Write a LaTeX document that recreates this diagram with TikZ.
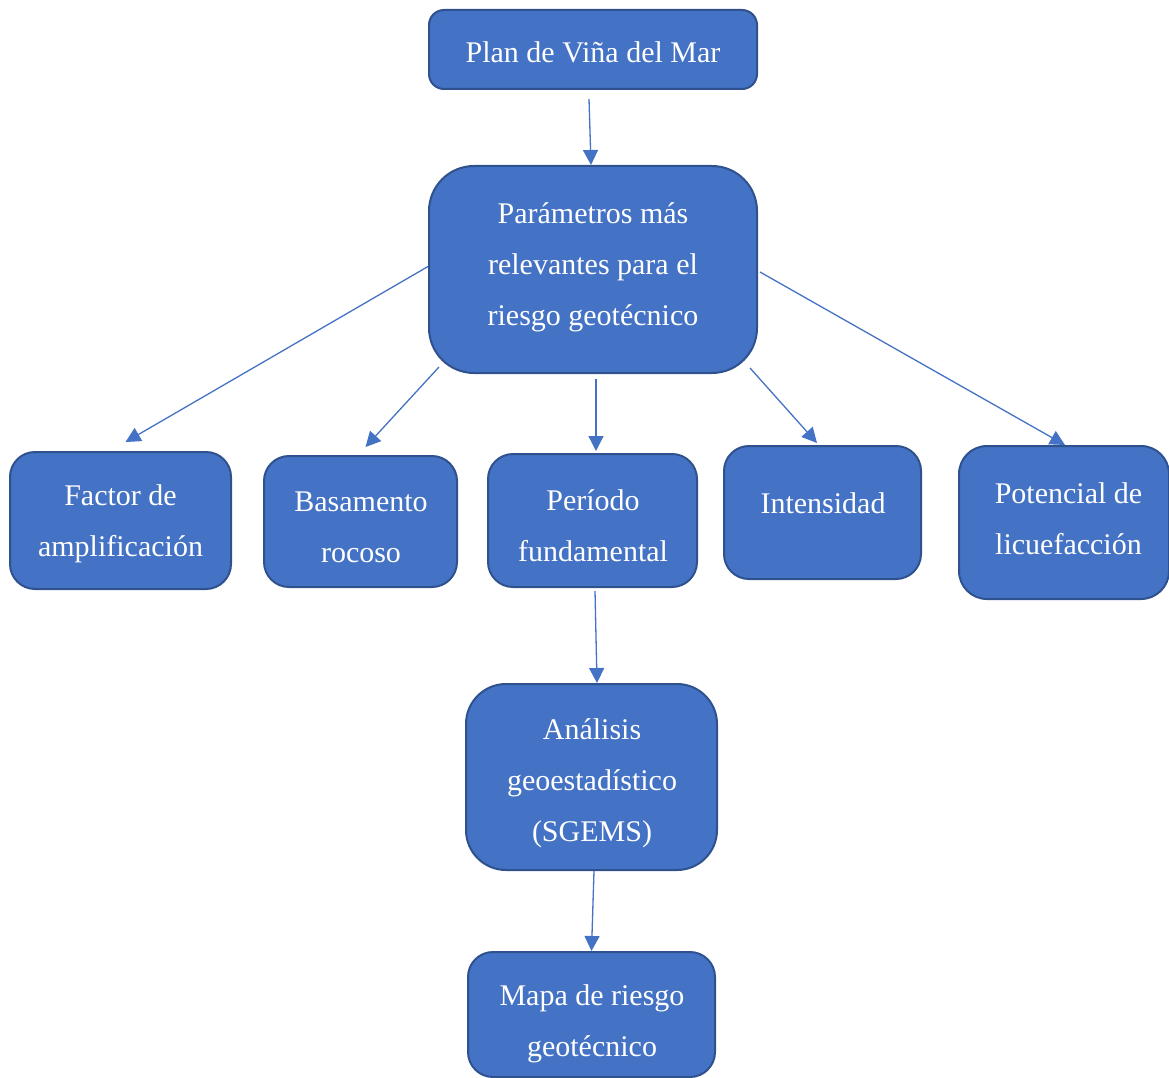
\documentclass[tikz,border=0pt]{standalone}
\usepackage{fontspec}
\setmainfont{Liberation Serif}
\usetikzlibrary{arrows.meta}
\definecolor{boxfill}{HTML}{4472C4}
\definecolor{boxline}{HTML}{2F528F}
\tikzset{
  box/.style={draw=boxline, fill=boxfill, line width=2pt, inner sep=0pt},
  txt/.style={text=white, align=center, inner sep=0pt, font=\fontsize{30}{51}\selectfont},
  conn/.style={draw=boxfill, line width=1.3pt, -{Triangle[length=15pt,width=15pt]}}
}
\begin{document}
\begin{tikzpicture}[x=1pt,y=-1pt]
\useasboundingbox (0,0) rectangle (1169,1078);
% boxes
\node[box, rounded corners=15pt, minimum width=328pt, minimum height=79pt] (plan) at (593,49.5) {};
\node[box, rounded corners=45pt, minimum width=328pt, minimum height=207pt] (par) at (593,269.5) {};
\node[box, rounded corners=25pt, minimum width=221pt, minimum height=137pt] (fac) at (120.5,520.5) {};
\node[box, rounded corners=25pt, minimum width=193pt, minimum height=131pt] (bas) at (360.5,521.5) {};
\node[box, rounded corners=25pt, minimum width=209pt, minimum height=133pt] (per) at (592.5,520.5) {};
\node[box, rounded corners=25pt, minimum width=197pt, minimum height=133pt] (int) at (822.5,512.5) {};
\node[box, rounded corners=28pt, minimum width=210pt, minimum height=153pt] (pot) at (1064,522.5) {};
\node[box, rounded corners=40pt, minimum width=251pt, minimum height=186pt] (ana) at (591.5,777) {};
\node[box, rounded corners=25pt, minimum width=247pt, minimum height=125pt] (mapa) at (591.5,1014.5) {};
% texts
\node[txt] (plan-t) at (593,52) {Plan de Viña del Mar};
\node[txt] (par-t) at (593,267) {Parámetros más\\relevantes para el\\riesgo geotécnico};
\node[txt] (fac-t) at (120.5,524) {Factor de\\amplificación};
\node[txt] (bas-t) at (361,527) {Basamento\\rocoso};
\node[txt] (per-t) at (593,526) {Período\\fundamental};
\node[txt] (int-t) at (823,503) {Intensidad};
\node[txt] (pot-t) at (1068.5,519) {Potencial de\\licuefacción};
\node[txt] (ana-t) at (592,783) {Análisis\\geoestadístico\\(SGEMS)};
\node[txt] (mapa-t) at (592,1024) {Mapa de riesgo\\geotécnico};
% connectors
\draw[conn] ([xshift=-4pt,yshift=-9pt]plan.south) -- ([xshift=-2pt]par.north);
\draw[conn] ([yshift=3pt]par.west) -- ([xshift=5pt,yshift=9pt]fac.north);
\draw[conn] ([xshift=11pt,yshift=7pt]par.south west) -- ([xshift=5pt,yshift=8pt]bas.north);
\draw[conn] ([xshift=3pt,yshift=-5pt]par.south) -- ([xshift=3.5pt,yshift=2pt]per.north);
\draw[conn] ([xshift=-8pt,yshift=6pt]par.south east) -- ([xshift=-5.5pt,yshift=2pt]int.north);
\draw[conn] ([xshift=2pt,yshift=-2.5pt]par.east) -- ([xshift=1pt]pot.north);
\draw[conn] ([xshift=2.5pt,yshift=-3pt]per.south) -- ([xshift=5.5pt]ana.north);
\draw[conn] ([xshift=2.5pt]ana.south) -- (mapa.north);
\end{tikzpicture}
\end{document}
